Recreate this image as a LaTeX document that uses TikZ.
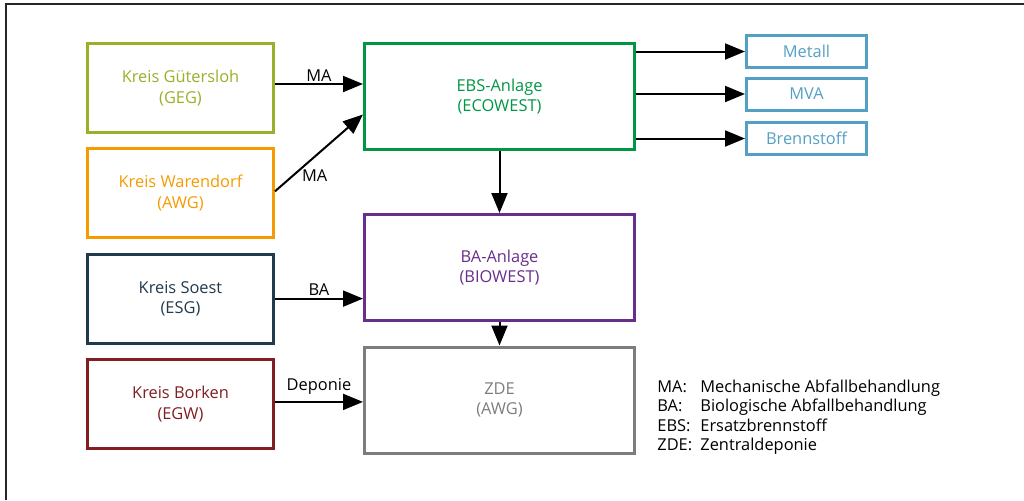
\documentclass[tikz,border=0pt]{standalone}
\usepackage{fontspec}
\setmainfont{Open Sans}
\usetikzlibrary{arrows.meta,positioning,calc}
\definecolor{cGEG}{RGB}{152,176,42}
\definecolor{cAWG}{RGB}{245,155,0}
\definecolor{cESG}{RGB}{32,58,78}
\definecolor{cEGW}{RGB}{128,30,34}
\definecolor{cECO}{RGB}{0,150,68}
\definecolor{cBIO}{RGB}{104,46,140}
\definecolor{cZDE}{RGB}{125,125,125}
\definecolor{cOUT}{RGB}{84,160,196}
\begin{document}
\begin{tikzpicture}[x=0.5pt,y=-0.5pt,
    box/.style={draw=#1,text=#1,line width=1.5pt,align=center,inner sep=0pt,
      font=\fontsize{8.2}{10.3}\selectfont},
    flow/.style={line width=1pt,-{Triangle[length=10pt,width=8pt]}},
    lbl/.style={font=\fontsize{8.2}{10}\selectfont,inner sep=1pt}]
  \useasboundingbox (0,0) rectangle (1024,500);
  \draw[line width=1pt,black!85] (6,500) -- (6,4) -- (1024,4);
  % Kreise
  \foreach \t/\c [count=\i] in {
    Kreis Gütersloh\\(GEG)/cGEG,Kreis Warendorf\\(AWG)/cAWG,
    Kreis Soest\\(ESG)/cESG,Kreis Borken\\(EGW)/cEGW}
  {
    \node[box=\c,minimum width=93pt,minimum height=44.5pt] (k\i) at (180.5,{88+(\i-1)*105.3}) {\t};
  }
  % Anlagen
  \node[box=cECO,minimum width=135pt,minimum height=53pt] (ebs) at (499.5,96.5) {EBS-Anlage\\(ECOWEST)};
  \node[box=cBIO,minimum width=135pt,minimum height=53pt] (ba) at (499.5,267.5) {BA-Anlage\\(BIOWEST)};
  \node[box=cZDE,minimum width=135pt,minimum height=53pt] (zde) at (499.5,400) {ZDE\\(AWG)};
  % Produkte
  \foreach \t/\y [count=\i] in {Metall/51.5,MVA/94,Brennstoff/138.5}
  {
    \node[box=cOUT,minimum width=60pt,minimum height=16pt] (o\i) at (806.5,\y) {\t};
    \draw[flow] (ebs.east |- o\i) -- (o\i.west);
  }
  \draw[flow] ([yshift=2pt]k1.east) -- ([yshift=2pt]k1.east -| ebs.west) node[lbl,midway,above] {MA};
  \draw[flow] ([yshift=1pt]k2.east) -- ([yshift=-9pt]ebs.west) node[lbl,pos=0.45,anchor=north,yshift=-5pt] {MA};
  \draw[flow] (k3.east) -- (k3.east -| ba.west) node[lbl,midway,above] {BA};
  \draw[flow] ([yshift=1pt]k4.east) -- ([yshift=1pt]k4.east -| zde.west) node[lbl,midway,above,yshift=2pt] {Deponie};
  \draw[flow] (ebs) -- (ba);
  \draw[flow] (ba) -- (zde);
  % Legende
  \node[anchor=base west,inner sep=0pt,font=\fontsize{8.2}{9.8}\selectfont] (legende) at (657,392)
    {\begin{tabular}[t]{@{}p{21.5pt}@{}l@{}}
      MA: & Mechanische Abfallbehandlung\\
      BA: & Biologische Abfallbehandlung\\
      EBS: & Ersatzbrennstoff\\
      ZDE: & Zentraldeponie
    \end{tabular}};
\end{tikzpicture}
\end{document}
